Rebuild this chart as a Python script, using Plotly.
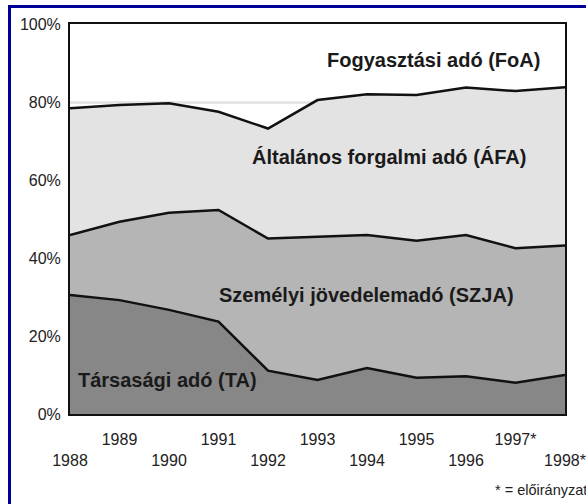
import plotly.graph_objects as go

years = [1988, 1989, 1990, 1991, 1992, 1993, 1994, 1995, 1996, 1997, 1998]
year_labels = ["1988", "1989", "1990", "1991", "1992", "1993", "1994", "1995", "1996", "1997*", "1998*"]
pct_ticks = [0, 20, 40, 60, 80, 100]
pct_labels = ["0%", "20%", "40%", "60%", "80%", "100%"]

# shares of total tax revenue, %
ta = [30.5, 29.2, 26.7, 23.7, 11.1, 8.7, 11.8, 9.3, 9.7, 8.0, 10.0]
szja = [15.4, 20.1, 24.9, 28.6, 33.9, 36.7, 34.1, 35.1, 36.2, 34.5, 33.2]
afa = [32.5, 29.9, 28.1, 25.2, 28.2, 35.1, 36.1, 37.4, 37.8, 40.3, 40.6]
foa = [21.6, 20.8, 20.3, 22.5, 26.8, 19.5, 18.0, 18.2, 16.3, 17.2, 16.2]

series_names = ["Társasági adó (TA)", "Személyi jövedelemadó (SZJA)",
                "Általános forgalmi adó (ÁFA)", "Fogyasztási adó (FoA)"]
series_vals = [ta, szja, afa, foa]
fills = ["#878787", "#b5b5b5", "#e3e3e3", "rgba(0,0,0,0)"]
line_w = [2.5, 2.5, 2.5, 0]

# label positions (data coords)
label_x = [1989.96, 1993.98, 1994.44, 1995.35]
label_y = [8.7, 30.5, 65.9, 90.8]

FONT = "Liberation Sans, Arial, sans-serif"

fig = go.Figure()
for name, vals, fc, lw in zip(series_names, series_vals, fills, line_w):
    fig.add_trace(go.Scatter(
        x=years, y=vals, name=name, mode="lines", stackgroup="one",
        fillcolor=fc, line=dict(color="#111111", width=lw, shape="linear"),
        hoverinfo="x+y+name",
    ))

for name, lx, ly in zip(series_names, label_x, label_y):
    fig.add_annotation(x=lx, y=ly, xref="x", yref="y", text="<b>%s</b>" % name,
                       showarrow=False, xanchor="center", yanchor="middle",
                       font=dict(family=FONT, size=20, color="#1a1a1a"))

fig.add_annotation(x=0.8545, y=-0.195, xref="paper", yref="paper", text="* = előirányzat",
                   showarrow=False, xanchor="left", yanchor="middle",
                   font=dict(family=FONT, size=14.5, color="#222222"))

ticktext = [t if i % 2 == 1 else "<br>" + t for i, t in enumerate(year_labels)]

fig.update_layout(
    width=586, height=504, autosize=False,
    margin=dict(l=70, r=21, t=24, b=90, autoexpand=False),
    paper_bgcolor="white", plot_bgcolor="white",
    showlegend=False,
    font=dict(family=FONT, size=16, color="#222222"),
    xaxis=dict(range=[1988, 1998], tickvals=years, ticktext=ticktext, showgrid=False,
               zeroline=False, showline=True, mirror=True, linecolor="#111111", linewidth=2,
               ticks="", ticklabelstandoff=10, tickangle=0),
    yaxis=dict(range=[0, 100], tickvals=pct_ticks, ticktext=pct_labels,
               showgrid=True, gridcolor="#e6e6e6", gridwidth=3, zeroline=False,
               showline=True, mirror=True, linecolor="#111111", linewidth=2,
               ticks="", ticklabelstandoff=4),
)

# page setup: no body margin; navy page frame (only its left and top sides fall inside the view)
post = (
    "document.body.style.margin='0px';"
    "document.body.style.overflow='hidden';"
    "var d=document.createElement('div');"
    "d.style.cssText='position:absolute;left:8px;top:5px;width:800px;height:800px;"
    "border-left:3px solid #000099;border-top:3px solid #000099;pointer-events:none;';"
    "document.body.appendChild(d);"
)

fig.write_html("out.html", config={"displayModeBar": False}, post_script=post)
